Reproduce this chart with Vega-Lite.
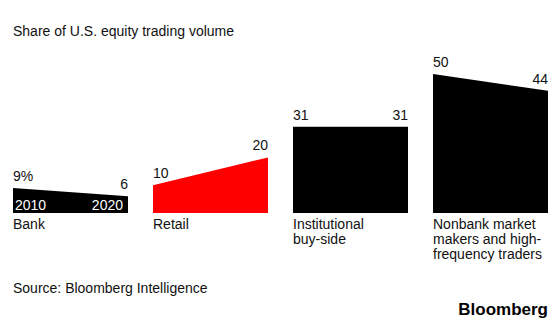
{
  "$schema": "https://vega.github.io/schema/vega-lite/v6.json",
  "background": "white",
  "padding": {"left": 13, "right": 13, "top": 25, "bottom": 5},
  "config": {
    "view": {"stroke": null},
    "font": "Liberation Sans",
    "text": {"color": "#111111"},
    "title": {"color": "#111111", "fontWeight": "normal", "fontSize": 14}
  },
  "title": {"text": "Bloomberg", "orient": "bottom", "anchor": "end", "fontSize": 17, "fontWeight": "bold", "color": "#000000", "offset": 6},
  "vconcat": [
    {
      "title": {"text": "Source: Bloomberg Intelligence", "orient": "bottom", "anchor": "start", "fontSize": 14, "offset": 20},
      "vconcat": [
        {
          "title": {"text": "Share of U.S. equity trading volume", "anchor": "start", "fontSize": 14, "offset": 17},
          "data": {
            "values": [
              {"group": "Bank", "year": 2010, "value": 9, "label": "9%"},
              {"group": "Bank", "year": 2020, "value": 6, "label": "6"},
              {"group": "Retail", "year": 2010, "value": 10, "label": "10"},
              {"group": "Retail", "year": 2020, "value": 20, "label": "20"},
              {"group": "Institutional buy-side", "year": 2010, "value": 31, "label": "31"},
              {"group": "Institutional buy-side", "year": 2020, "value": 31, "label": "31"},
              {"group": "Nonbank market makers and high-frequency traders", "year": 2010, "value": 50, "label": "50"},
              {"group": "Nonbank market makers and high-frequency traders", "year": 2020, "value": 44, "label": "44"}
            ]
          },
          "facet": {
            "column": {
              "field": "group",
              "type": "nominal",
              "sort": ["Bank", "Retail", "Institutional buy-side", "Nonbank market makers and high-frequency traders"],
              "header": {
                "title": null,
                "labelOrient": "bottom",
                "labelAlign": "left",
                "labelAnchor": "start",
                "labelBaseline": "top",
                "labelPadding": 5,
                "labelFontSize": 14,
                "labelColor": "#111111",
                "labelLineHeight": 15,
                "labelExpr": "datum.value == 'Institutional buy-side' ? ['Institutional', 'buy-side'] : datum.value == 'Nonbank market makers and high-frequency traders' ? ['Nonbank market', 'makers and high-', 'frequency traders'] : datum.value"
              }
            }
          },
          "spacing": 25,
          "spec": {
            "width": 115,
            "height": 139,
            "layer": [
              {
                "mark": {"type": "area"},
                "encoding": {
                  "x": {"field": "year", "type": "quantitative", "scale": {"domain": [2010, 2020], "nice": false, "zero": false}, "axis": null},
                  "y": {"field": "value", "type": "quantitative", "scale": {"domain": [0, 50], "nice": false}, "axis": null},
                  "color": {
                    "field": "group",
                    "type": "nominal",
                    "scale": {
                      "domain": ["Bank", "Retail", "Institutional buy-side", "Nonbank market makers and high-frequency traders"],
                      "range": ["#000000", "#ff0000", "#000000", "#000000"]
                    },
                    "legend": null
                  }
                }
              },
              {
                "transform": [{"filter": "datum.year == 2010"}],
                "mark": {"type": "text", "align": "left", "baseline": "alphabetic", "dy": -7, "fontSize": 14},
                "encoding": {
                  "x": {"field": "year", "type": "quantitative"},
                  "y": {"field": "value", "type": "quantitative"},
                  "text": {"field": "label"}
                }
              },
              {
                "transform": [{"filter": "datum.year == 2020"}],
                "mark": {"type": "text", "align": "right", "baseline": "alphabetic", "dy": -7, "fontSize": 14},
                "encoding": {
                  "x": {"field": "year", "type": "quantitative"},
                  "y": {"field": "value", "type": "quantitative"},
                  "text": {"field": "label"}
                }
              },
              {
                "transform": [{"filter": "datum.group == 'Bank' && datum.year == 2010"}],
                "mark": {"type": "text", "align": "left", "baseline": "alphabetic", "dx": 2, "dy": -3, "fontSize": 14, "color": "#ffffff"},
                "encoding": {
                  "x": {"field": "year", "type": "quantitative"},
                  "y": {"datum": 0, "type": "quantitative"},
                  "text": {"field": "year", "type": "nominal"}
                }
              },
              {
                "transform": [{"filter": "datum.group == 'Bank' && datum.year == 2020"}],
                "mark": {"type": "text", "align": "right", "baseline": "alphabetic", "dx": -5, "dy": -3, "fontSize": 14, "color": "#ffffff"},
                "encoding": {
                  "x": {"field": "year", "type": "quantitative"},
                  "y": {"datum": 0, "type": "quantitative"},
                  "text": {"field": "year", "type": "nominal"}
                }
              }
            ]
          }
        }
      ]
    }
  ]
}
